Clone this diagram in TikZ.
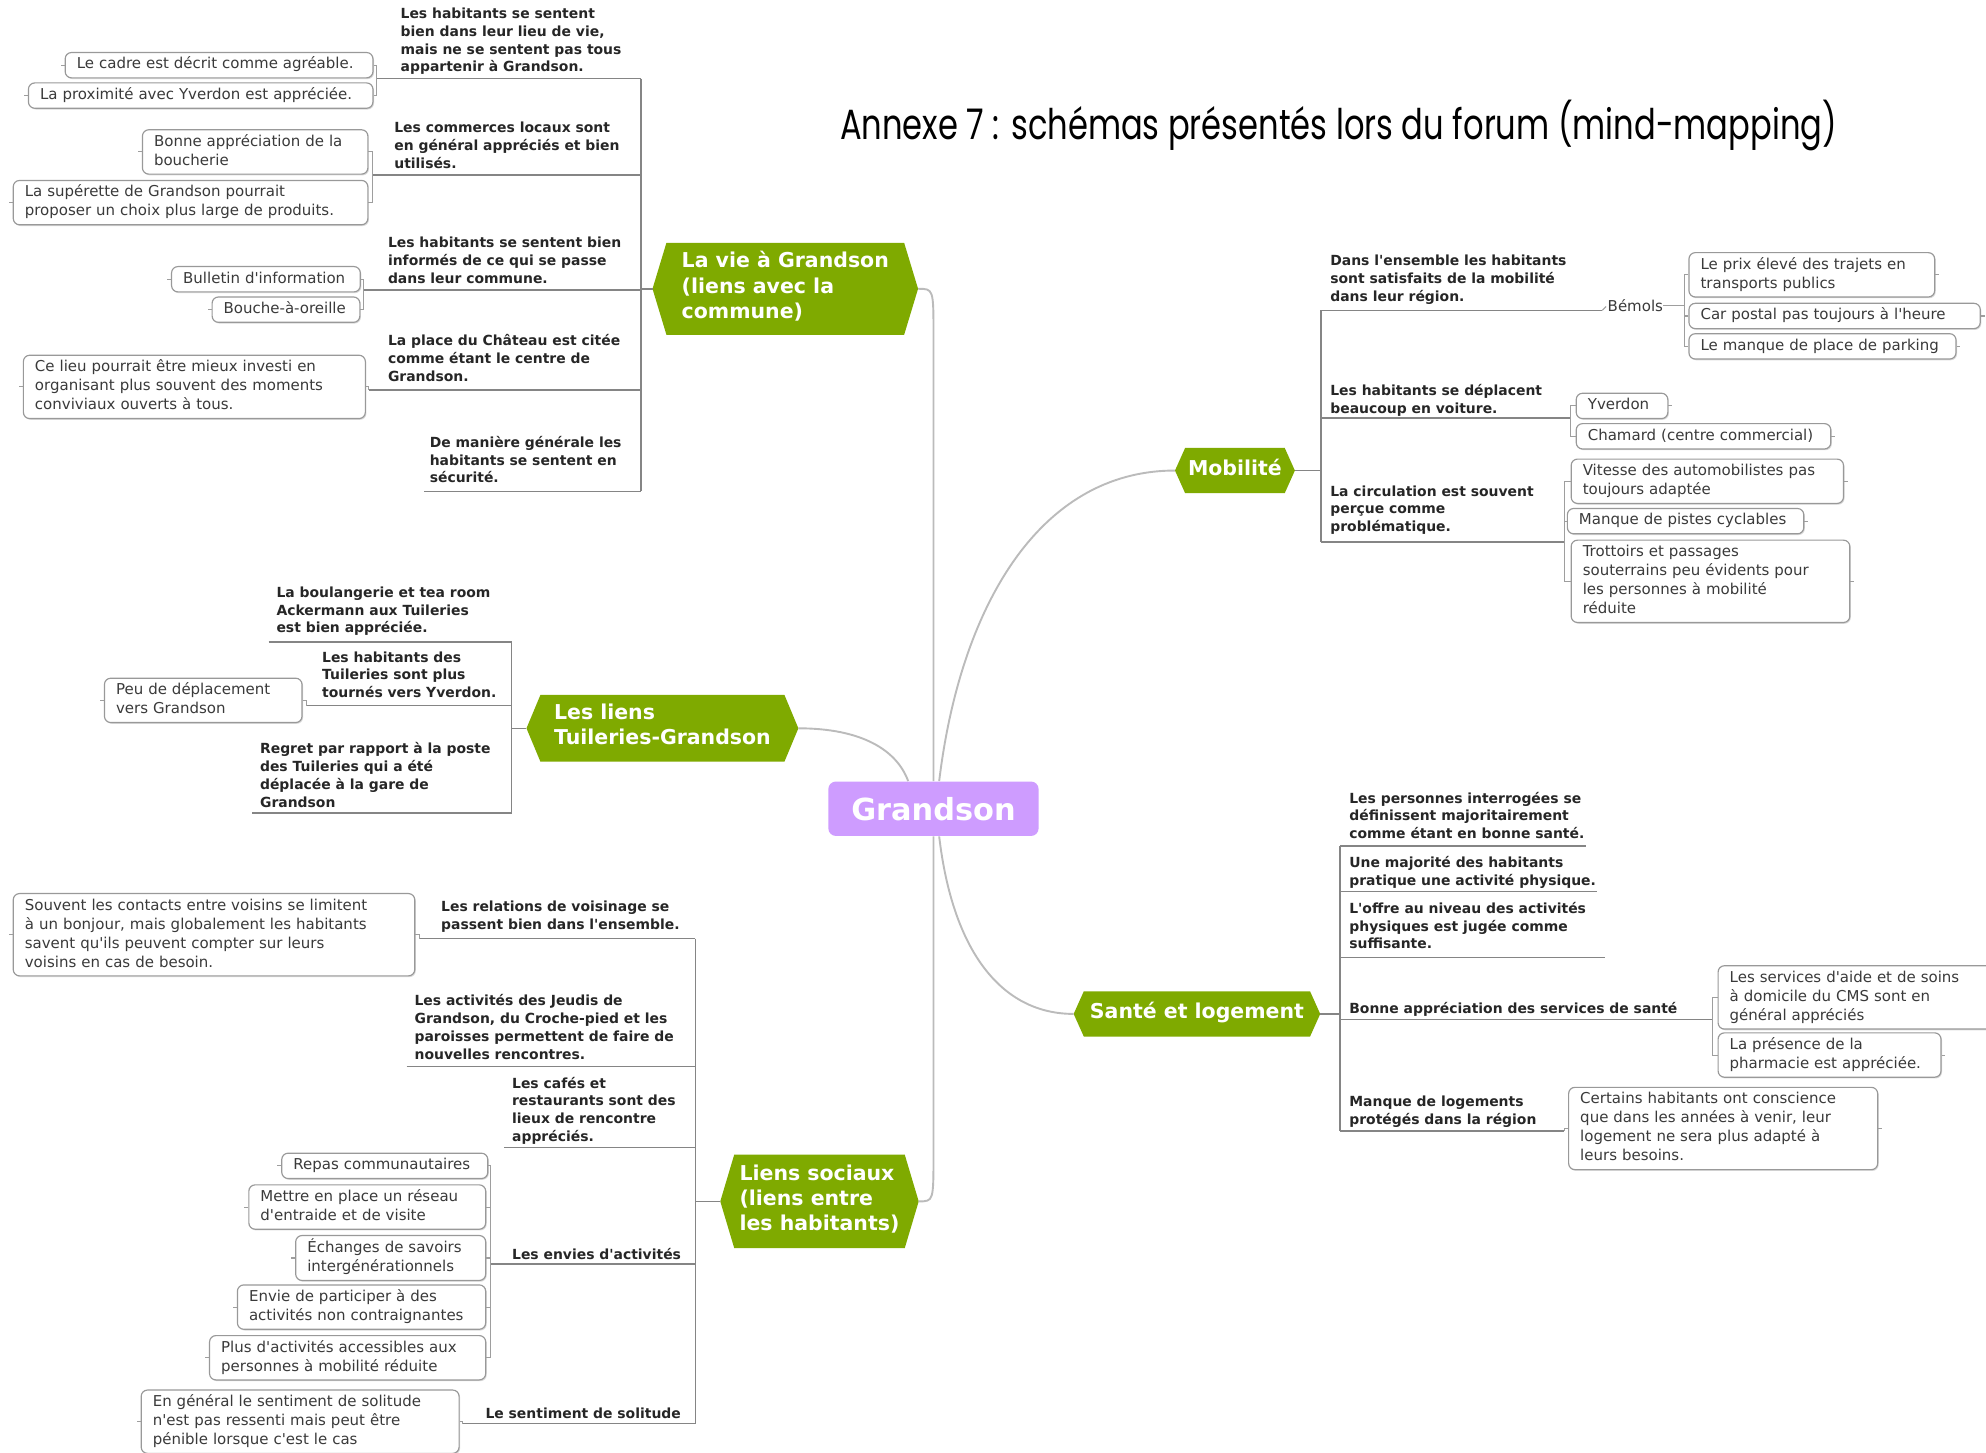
\documentclass[tikz,border=0pt]{standalone}
\usepackage{fontspec}
\usepackage{graphicx}
\setmainfont{DejaVu Sans}
\newfontfamily\titlefont{Poppins}
\usetikzlibrary{backgrounds,shadows}
\definecolor{xgreen}{HTML}{7FAA00}
\definecolor{xpurple}{HTML}{CE9CFF}
\definecolor{connc}{HTML}{BBBBBB}
\definecolor{ulinec}{HTML}{858585}
\definecolor{blinec}{HTML}{9E9E9E}
\definecolor{bordc}{HTML}{999999}
\definecolor{txtc}{HTML}{262626}
\definecolor{btxtc}{HTML}{3A3A3A}
\newcommand\apo{\textquotesingle}
\newcommand\hexfill[2]{%
 \begin{scope}[on background layer]
 \fill[xgreen] ([xshift=#2]#1.north west) -- ([xshift=-#2]#1.north east) -- (#1.east) -- ([xshift=-#2]#1.south east) -- ([xshift=#2]#1.south west) -- (#1.west) -- cycle;
 \end{scope}}
\begin{document}
\begin{tikzpicture}[x=0.6pt,y=-0.6pt,
  lbl/.style={anchor=north west,inner sep=0pt,align=left,text=txtc,font=\fontsize{6.6}{8.4}\selectfont\bfseries,execute at begin node=\strut},
  xbox/.style={anchor=north west,draw=bordc,line width=0.55pt,rounded corners=3pt,fill=white,inner xsep=5.5pt,inner ysep=1.5pt,align=left,text width=#1,text=btxtc,font=\fontsize{7.1}{9}\selectfont,execute at begin node=\strut,execute at end node=\strut,drop shadow={shadow xshift=0.5pt,shadow yshift=-0.6pt,fill=black,opacity=0.15}},
  hexn/.style={inner sep=0pt,align=left,text=white,font=\fontsize{9.7}{12}\selectfont\bfseries,execute at begin node=\strut,execute at end node=\strut},
  mconn/.style={draw=connc,line width=0.9pt},
  ulin/.style={draw=ulinec,line width=0.75pt},
  blin/.style={draw=blinec,line width=0.5pt}]
\begin{scope}[on background layer]
\fill[white] (0,0) rectangle (1568,1147);
\end{scope}
\useasboundingbox (0,0) rectangle (1568,1147);

% title
\node[anchor=base west,inner sep=0pt] (title) at (663,110) {\resizebox{472.2pt}{\height}{\titlefont\fontsize{20}{24}\selectfont Annexe 7 : schémas présentés lors du forum (mind-mapping)}};

% central and main nodes
\node[fill=xpurple,rounded corners=3.6pt,minimum width=99.6pt,minimum height=25.8pt,inner sep=0pt,text=white,font=\fontsize{14.4}{16}\selectfont\bfseries] (grand) at (737,638.5) {Grandson};
\node[hexn,minimum width=125.4pt,minimum height=43.2pt] (vie) at (620,228) {La vie à Grandson\\(liens avec la\\commune)};
\node[hexn,minimum width=128.4pt,minimum height=31.2pt] (tui) at (523,575) {Les liens\\Tuileries-Grandson};
\node[hexn,minimum width=56.4pt,minimum height=21pt] (mob) at (975,371.5) {Mobilité};
\node[hexn,minimum width=116.4pt,minimum height=21pt] (san) at (945,800.5) {Santé et logement};
\node[hexn,minimum width=93.6pt,minimum height=43.8pt] (soc) at (647,948.5) {Liens sociaux\\(liens entre\\les habitants)};
\hexfill{vie}{6.6pt}
\hexfill{tui}{6.6pt}
\hexfill{mob}{4.8pt}
\hexfill{san}{4.8pt}
\hexfill{soc}{6.6pt}

% main connectors
\draw[mconn] (grand.north) -- (grand.north |- vie.south) .. controls (grand.north |- vie.east) .. (vie.east);
\draw[mconn] (tui.east) .. controls (680,575) and (708,592) .. ([xshift=-12pt]grand.north);
\draw[mconn] ([xshift=2.7pt]grand.north) .. controls (758,480) and (820,371.5) .. (mob.west);
\draw[mconn] ([xshift=2.7pt]grand.south) .. controls (752,750) and (790,800.5) .. (san.west);
\draw[mconn] (grand.south) -- (grand.south |- soc.north) .. controls (grand.south |- soc.east) .. (soc.east);

% ===== La vie a Grandson =====
\node[lbl] (L1) at (316,6) {Les habitants se sentent\\bien dans leur lieu de vie,\\mais ne se sentent pas tous\\appartenir à Grandson.};
\coordinate (L1o) at (297,62); \coordinate (L1i) at (506,62);
\node[lbl] (L2) at (311,96) {Les commerces locaux sont\\en général appréciés et bien\\utilisés.};
\coordinate (L2o) at (294,138); \coordinate (L2i) at (506,138);
\node[lbl] (L3) at (306,187) {Les habitants se sentent bien\\informés de ce qui se passe\\dans leur commune.};
\coordinate (L3o) at (287,229); \coordinate (L3i) at (506,229);
\node[lbl] (L4) at (306,264) {La place du Château est citée\\comme étant le centre de\\Grandson.};
\coordinate (L4o) at (291,308); \coordinate (L4i) at (506,308);
\node[lbl] (L5) at (339,344) {De manière générale les\\habitants se sentent en\\sécurité.};
\coordinate (L5o) at (335,388); \coordinate (L5i) at (506,388);
\foreach \n in {L1,L2,L3,L4,L5} {\draw[ulin] (\n o) -- (\n i);}
\draw[ulin] (L1i) -- (L5i);
\draw[ulin] (vie.west) -- (vie.west -| L1i);

\node[xbox=134.8pt] (B1) at (51,41) {Le cadre est décrit comme agréable.};
\node[xbox=152.2pt] (B2) at (22,65) {La proximité avec Yverdon est appréciée.};
\draw[blin] (B1.east) -- (B1.east -| L1o) -- (B2.east -| L1o) -- (B2.east);
\node[xbox=95.8pt] (B3) at (112,102) {Bonne appréciation de la\\boucherie};
\node[xbox=157pt] (B4) at (10,142) {La supérette de Grandson pourrait\\proposer un choix plus large de produits.};
\draw[blin] (B3.east) -- (B3.east -| L2o) -- (B4.east -| L2o) -- (B4.east);
\node[xbox=78.4pt] (B5) at (135,210) {Bulletin d\apo information};
\node[xbox=59pt] (B6) at (167,234) {Bouche-à-oreille};
\draw[blin] (B5.east) -- (B5.east -| L3o) -- (B6.east -| L3o) -- (B6.east);
\node[xbox=151pt] (B7) at (18,280) {Ce lieu pourrait être mieux investi en\\organisant plus souvent des moments\\conviviaux ouverts à tous.};
\draw[blin] (B7.east) -| (L4o);
\foreach \b in {B1,B2,B3,B4,B5,B6,B7} {\draw[blin] (\b.west) -- ++(-3,0);}

% ===== Tuileries =====
\node[lbl] (T1) at (218,463) {La boulangerie et tea room\\Ackermann aux Tuileries\\est bien appréciée.};
\coordinate (T1o) at (212,507); \coordinate (T1i) at (404,507);
\node[lbl] (T2) at (254,514) {Les habitants des\\Tuileries sont plus\\tournés vers Yverdon.};
\coordinate (T2o) at (242,557); \coordinate (T2i) at (404,557);
\node[lbl] (T3) at (205,586) {Regret par rapport à la poste\\des Tuileries qui a été\\déplacée à la gare de\\Grandson};
\coordinate (T3o) at (199,642); \coordinate (T3i) at (404,642);
\foreach \n in {T1,T2,T3} {\draw[ulin] (\n o) -- (\n i);}
\draw[ulin] (T1i) -- (T3i);
\draw[ulin] (tui.west) -- (tui.west -| T1i);
\node[xbox=82.6pt] (TB) at (82,535) {Peu de déplacement\\vers Grandson};
\draw[blin] (TB.east) -| (T2o);
\draw[blin] (TB.west) -- ++(-3,0);

% ===== Mobilite =====
\node[lbl] (M1) at (1050,201) {Dans l\apo ensemble les habitants\\sont satisfaits de la mobilité\\dans leur région.};
\coordinate (M1i) at (1043,245); \coordinate (M1o) at (1265,245);
\node[lbl] (M2) at (1050,303) {Les habitants se déplacent\\beaucoup en voiture.};
\coordinate (M2i) at (1043,330); \coordinate (M2o) at (1240,330);
\node[lbl] (M3) at (1050,383) {La circulation est souvent\\perçue comme\\problématique.};
\coordinate (M3i) at (1043,428); \coordinate (M3o) at (1235,428);
\foreach \n in {M1,M2,M3} {\draw[ulin] (\n i) -- (\n o);}
\draw[ulin] (M1i) -- (M3i);
\draw[ulin] (mob.east) -- (mob.east -| M1i);
\draw[blin] (M1o) -- ++(3,-3);
\node[anchor=base west,inner sep=0pt,font=\fontsize{7.1}{9}\selectfont,text=btxtc] (bem) at (1269,246) {Bémols};
\coordinate (kM) at (1330,242);
\node[xbox=105.4pt] (MB1) at (1333,199) {Le prix élevé des trajets en\\transports publics};
\node[xbox=127pt] (MB2) at (1333,239) {Car postal pas toujours à l\apo heure};
\node[xbox=115.5pt] (MB3) at (1333,263) {Le manque de place de parking};
\draw[blin] (bem.east) -- (bem.east -| kM);
\draw[blin] (MB1.west) -- (MB1.west -| kM) -- (MB3.west -| kM) -- (MB3.west);
\draw[blin] (MB2.west) -- (MB2.west -| kM);
\node[xbox=32.4pt] (MB4) at (1244,310) {Yverdon};
\node[xbox=109.6pt] (MB5) at (1244,334) {Chamard (centre commercial)};
\draw[blin] (MB4.west) -- (MB4.west -| M2o) -- (MB5.west -| M2o) -- (MB5.west);
\node[xbox=118pt] (MB6) at (1240,362) {Vitesse des automobilistes pas\\toujours adaptée};
\node[xbox=101pt] (MB7) at (1237,401) {Manque de pistes cyclables};
\node[xbox=121pt] (MB8) at (1240,426) {Trottoirs et passages\\souterrains peu évidents pour\\les personnes à mobilité\\réduite};
\draw[blin] (MB6.west) -- (MB6.west -| M3o) -- (MB8.west -| M3o) -- (MB8.west);
\draw[blin] (MB7.west) -- (MB7.west -| M3o);
\foreach \b in {MB1,MB2,MB3,MB4,MB5,MB6,MB7,MB8} {\draw[blin] (\b.east) -- ++(3,0);}

% ===== Sante et logement =====
\node[lbl] (S1) at (1065,625) {Les personnes interrogées se\\définissent majoritairement\\comme étant en bonne santé.};
\coordinate (S1i) at (1058,668); \coordinate (S1o) at (1252,668);
\node[lbl] (S2) at (1065,676) {Une majorité des habitants\\pratique une activité physique.};
\coordinate (S2i) at (1058,704); \coordinate (S2o) at (1261,704);
\node[lbl] (S3) at (1065,712) {L\apo offre au niveau des activités\\physiques est jugée comme\\suffisante.};
\coordinate (S3i) at (1058,756); \coordinate (S3o) at (1267,756);
\node[lbl] (S4) at (1065,790) {Bonne appréciation des services de santé};
\coordinate (S4i) at (1058,805); \coordinate (S4o) at (1352,805);
\node[lbl] (S5) at (1065,865) {Manque de logements\\protégés dans la région};
\coordinate (S5i) at (1058,893); \coordinate (S5o) at (1235,893);
\foreach \n in {S1,S2,S3,S4,S5} {\draw[ulin] (\n i) -- (\n o);}
\draw[ulin] (S1i) -- (S5i);
\draw[ulin] (san.east) -- (san.east -| S1i);
\node[xbox=126pt] (SB1) at (1356,762) {Les services d\apo aide et de soins\\à domicile du CMS sont en\\général appréciés};
\node[xbox=94.6pt] (SB2) at (1356,815) {La présence de la\\pharmacie est appréciée.};
\draw[blin] (SB1.west) -- (SB1.west -| S4o) -- (SB2.west -| S4o) -- (SB2.west);
\node[xbox=135.4pt] (SB3) at (1238,858) {Certains habitants ont conscience\\que dans les années à venir, leur\\logement ne sera plus adapté à\\leurs besoins.};
\draw[blin] (SB3.west) -| (S5o);
\foreach \b in {SB2,SB3} {\draw[blin] (\b.east) -- ++(3,0);}

% ===== Liens sociaux =====
\node[lbl] (R1) at (348,711) {Les relations de voisinage se\\passent bien dans l\apo ensemble.};
\coordinate (R1o) at (331,741); \coordinate (R1i) at (549,741);
\node[lbl] (R2) at (327,785) {Les activités des Jeudis de\\Grandson, du Croche-pied et les\\paroisses permettent de faire de\\nouvelles rencontres.};
\coordinate (R2o) at (321,842); \coordinate (R2i) at (549,842);
\node[lbl] (R3) at (404,850) {Les cafés et\\restaurants sont des\\lieux de rencontre\\appréciés.};
\coordinate (R3o) at (398,906); \coordinate (R3i) at (549,906);
\node[lbl] (R4) at (404,984) {Les envies d\apo activités};
\coordinate (R4o) at (387,998); \coordinate (R4i) at (549,998);
\node[lbl] (R5) at (383,1110) {Le sentiment de solitude};
\coordinate (R5o) at (365,1124); \coordinate (R5i) at (549,1124);
\foreach \n in {R1,R2,R3,R4,R5} {\draw[ulin] (\n o) -- (\n i);}
\draw[ulin] (R1i) -- (R5i);
\draw[ulin] (soc.west) -- (soc.west -| R1i);
\node[xbox=179.2pt] (RB1) at (10,705) {Souvent les contacts entre voisins se limitent\\à un bonjour, mais globalement les habitants\\savent qu\apo ils peuvent compter sur leurs\\voisins en cas de besoin.};
\draw[blin] (RB1.east) -| (R1o);
\node[xbox=86.6pt] (RB2) at (222,910) {Repas communautaires};
\node[xbox=101.2pt] (RB3) at (196,935) {Mettre en place un réseau\\d\apo entraide et de visite};
\node[xbox=79pt] (RB4) at (233,975) {Échanges de savoirs\\intergénérationnels};
\node[xbox=106.6pt] (RB5) at (187,1014) {Envie de participer à des\\activités non contraignantes};
\node[xbox=119.8pt] (RB6) at (165,1054) {Plus d\apo activités accessibles aux\\personnes à mobilité réduite};
\draw[blin] (RB2.east) -- (RB2.east -| R4o) -- (RB6.east -| R4o) -- (RB6.east);
\foreach \b in {RB3,RB4,RB5} {\draw[blin] (\b.east) -- (\b.east -| R4o);}
\node[xbox=139.6pt] (RB7) at (111,1097) {En général le sentiment de solitude\\n\apo est pas ressenti mais peut être\\pénible lorsque c\apo est le cas};
\draw[blin] (RB7.east) -| (R5o);
\foreach \b in {RB1,RB2,RB3,RB4,RB5,RB6,RB7} {\draw[blin] (\b.west) -- ++(-3,0);}
\end{tikzpicture}
\end{document}
